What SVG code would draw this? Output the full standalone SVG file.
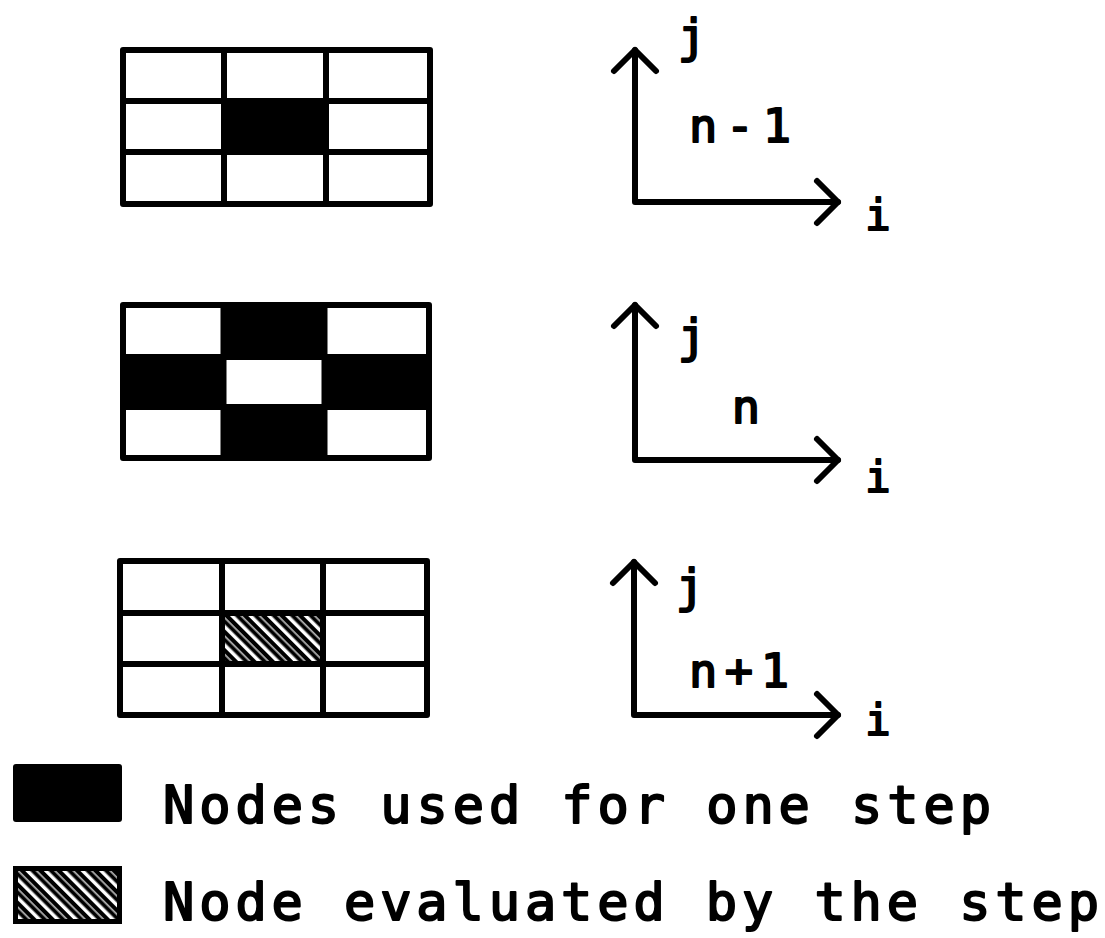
<svg xmlns="http://www.w3.org/2000/svg" width="1105" height="938" viewBox="0 0 1105 938">
  <style>
    .grid { fill: none; stroke: #000; stroke-width: 6; stroke-linecap: square; stroke-linejoin: round; }
    .blk { fill: #000; }
    .hatch { fill: url(#hatch); }
    .axis { fill: none; stroke: #000; stroke-width: 6; stroke-linecap: round; stroke-linejoin: round; marker-start: url(#arrow); marker-end: url(#arrow); }
    .lbl { font-family: "DejaVu Sans Mono", "Liberation Mono", monospace; font-size: 47px; fill: #000; stroke: #000; stroke-width: 2; stroke-linejoin: round; }
    .sm { font-size: 42px; }
    .leg { font-family: "DejaVu Sans Mono", "Liberation Mono", monospace; font-size: 52px; fill: #000; stroke: #000; stroke-width: 2; stroke-linejoin: round; }
  </style>
  <defs>
    <pattern id="hatch" width="13" height="13" patternUnits="userSpaceOnUse" patternTransform="rotate(-45)">
      <rect x="0" y="0" width="13" height="13" fill="#000"/>
      <rect x="0" y="0" width="3.5" height="13" fill="#fff"/>
      <rect x="7.5" y="0" width="1.2" height="13" fill="#fff"/>
    </pattern>
    <marker id="arrow" viewBox="-30 -30 60 60" markerWidth="60" markerHeight="60" refX="0" refY="0" markerUnits="userSpaceOnUse" orient="auto-start-reverse" overflow="visible">
      <path d="M -21 -21 L 0 0 L -21 21" fill="none" stroke="#000" stroke-width="6" stroke-linecap="round" stroke-linejoin="round"/>
    </marker>
  </defs>

  <!-- Grid for time level n-1 -->
  <g id="grid-n-minus-1">
    <rect class="blk" x="224" y="101" width="102" height="51"/>
    <rect class="grid" x="123" y="50" width="307" height="154"/>
    <path class="grid" d="M224 50 V204 M326 50 V204 M123 101 H430 M123 152 H430"/>
  </g>

  <!-- Grid for time level n -->
  <g id="grid-n">
    <rect class="blk" x="223.5" y="305" width="101" height="52"/>
    <rect class="blk" x="123" y="357" width="100.5" height="50"/>
    <rect class="blk" x="324.5" y="357" width="104.5" height="50"/>
    <rect class="blk" x="223.5" y="407" width="101" height="51"/>
    <rect class="grid" x="123" y="305" width="306" height="153"/>
    <path class="grid" d="M223.5 305 V458 M324.5 305 V458 M123 357 H429 M123 407 H429"/>
  </g>

  <!-- Grid for time level n+1 -->
  <g id="grid-n-plus-1">
    <rect class="hatch" x="222" y="613" width="101" height="51"/>
    <rect class="grid" x="120" y="561" width="307" height="154"/>
    <path class="grid" d="M222 561 V715 M323 561 V715 M120 613 H427 M120 664 H427"/>
  </g>

  <!-- Axes -->
  <g id="connectors">
    <path class="axis" d="M635 50 L635 202 L838 202"/>
    <path class="axis" d="M635 305 L635 460 L838 460"/>
    <path class="axis" d="M634 562 L634 715 L838 715"/>
  </g>

  <g id="axes-n-minus-1-labels">
    <text class="lbl" x="692" y="52" text-anchor="middle">j</text>
    <text class="lbl" x="689" y="142" textLength="102" lengthAdjust="spacing">n-1</text>
    <text class="lbl sm" x="878" y="230" text-anchor="middle">i</text>
  </g>
  <g id="axes-n-labels">
    <text class="lbl" x="692" y="352" text-anchor="middle">j</text>
    <text class="lbl" x="746" y="423" text-anchor="middle">n</text>
    <text class="lbl sm" x="878" y="492" text-anchor="middle">i</text>
  </g>
  <g id="axes-n-plus-1-labels">
    <text class="lbl" x="690" y="602" text-anchor="middle">j</text>
    <text class="lbl" x="689" y="687" textLength="100" lengthAdjust="spacing">n+1</text>
    <text class="lbl sm" x="878" y="735" text-anchor="middle">i</text>
  </g>

  <!-- Legend -->
  <g id="legend-used">
    <rect class="blk" x="13" y="764" width="109" height="58" rx="3"/>
    <text class="leg" x="163" y="823" textLength="828" lengthAdjust="spacing">Nodes used for one step</text>
  </g>
  <g id="legend-evaluated">
    <rect class="hatch" x="15.5" y="868.5" width="104" height="53" stroke="#000" stroke-width="5"/>
    <text class="leg" x="163" y="920" textLength="936" lengthAdjust="spacing">Node evaluated by the step</text>
  </g>
</svg>
